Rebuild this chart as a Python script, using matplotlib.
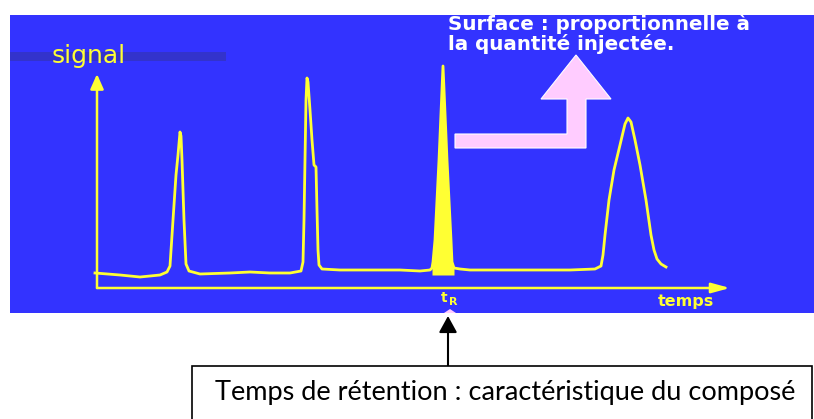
import matplotlib
matplotlib.use("Agg")
import matplotlib.pyplot as plt
from matplotlib.patches import Rectangle, Polygon, FancyArrowPatch

# ---- data: chromatogram (time, signal) in arbitrary units ----
time = [-2, 23, 43, 63, 70, 73, 76, 79, 81, 83, 84, 85, 87, 89, 92, 103, 133, 153,
        173, 193, 204, 206, 207, 208, 209, 210, 211, 213, 215, 217, 219, 220, 221,
        222, 225, 243, 273, 303, 323, 333, 335, 336, 338, 342, 346, 350, 354, 355,
        357, 363, 373, 403, 433, 473, 498, 504, 506, 508, 512, 517, 523, 528, 531,
        534, 538, 543, 549, 554, 557, 560, 564, 569]
signal = [15, 13, 11, 13, 16, 22, 68, 113, 133, 156, 152, 128, 68, 24, 17, 14, 15, 16,
          15, 15, 17, 26, 68, 128, 188, 210, 206, 178, 148, 123, 121, 78, 38,
          23, 19, 18, 18, 18, 17, 18, 20, 26, 48, 128, 222, 128, 48, 26,
          20, 19, 18, 18, 18, 18, 19, 22, 33, 53, 88, 118, 143, 164, 170,
          166, 148, 123, 88, 53, 38, 29, 24, 21]
filled_peak = (335, 357)     # time range of the shaded peak
baseline_level = 15
t_max, s_max = 633, 228
tR = 346

y_label = "signal"
x_label = "temps"
tR_label = ("t", "R")
note_area = "Surface : proportionnelle à\nla quantité injectée."
note_tr = "Temps de rétention : caractéristique du composé"

BLUE = "#3333ff"
YEL = "#ffff33"
PINK = "#ffccff"

fig = plt.figure(figsize=(8.14, 4.19), dpi=100)
ax = fig.add_axes([0, 0, 1, 1])
ax.set_xlim(0, 814)
ax.set_ylim(419, 0)
ax.axis("off")

# blue panel
ax.add_patch(Rectangle((10, 15), 804, 298, facecolor=BLUE, edgecolor="none", zorder=0))
ax.add_patch(Rectangle((10, 52), 216, 9, facecolor="#3333cc", edgecolor="none", zorder=1))
ax.text(89, 56, y_label, color=YEL, fontsize=18, family="DejaVu Sans",
        ha="center", va="center", zorder=3)

# chromatogram axes
axc = fig.add_axes([97 / 814, (419 - 288) / 419, 633 / 814, 228 / 419])
axc.set_xlim(0, t_max)
axc.set_ylim(0, s_max)
axc.axis("off")
axc.patch.set_alpha(0)

axc.add_patch(FancyArrowPatch((0, 0), (0, 214), arrowstyle="-|>,head_length=0.9,head_width=0.4",
                              mutation_scale=10, color=YEL, lw=1.8, shrinkA=0, shrinkB=0,
                              clip_on=False))
axc.add_patch(FancyArrowPatch((0, 0), (t_max, 0), arrowstyle="-|>,head_length=1.1,head_width=0.3",
                              mutation_scale=10, color=YEL, lw=1.8, shrinkA=0, shrinkB=0,
                              clip_on=False))

axc.plot(time, signal, color=YEL, lw=2.0, solid_joinstyle="round", clip_on=False)
ft = [t for t in time if filled_peak[0] <= t <= filled_peak[1]]
fs = [s for t, s in zip(time, signal) if filled_peak[0] <= t <= filled_peak[1]]
axc.fill_between(ft, fs, baseline_level - 2, color=YEL, lw=0)

# axis labels under the time axis
ax.text(444, 298, tR_label[0], color=YEL, fontsize=10, fontweight="bold",
        family="DejaVu Sans", ha="center", va="center")
ax.text(453, 302, tR_label[1], color=YEL, fontsize=8, fontweight="bold",
        family="DejaVu Sans", ha="center", va="center")
ax.text(686, 301, x_label, color=YEL, fontsize=11.5, fontweight="bold",
        family="DejaVu Sans", ha="center", va="center")

# pink L arrow
ax.add_patch(Polygon([(455, 134), (567, 134), (567, 99), (541, 99), (576, 55),
                      (611, 99), (586, 99), (586, 148), (455, 148)],
                     closed=True, facecolor=PINK, edgecolor="white", lw=0.8, zorder=2))
ax.add_patch(Polygon([(444, 313), (450, 309), (456, 313)], closed=True,
                     facecolor=PINK, edgecolor="none", zorder=2))

ax.text(448, 34, note_area, color="white", fontsize=14.3, fontweight="bold",
        family="DejaVu Sans", ha="left", va="center", linespacing=1.0)

# retention time callout
ax.add_patch(FancyArrowPatch((448, 366), (448, 316), arrowstyle="-|>,head_length=1.0,head_width=0.55",
                             mutation_scale=10, color="black", lw=1.5, shrinkA=0, shrinkB=0))
ax.add_patch(Rectangle((192, 366), 620, 60, facecolor="white", edgecolor="black", lw=1.2))
ax.text(505, 392, note_tr, color="black", fontsize=19.5, family="Lato",
        ha="center", va="center")

fig.savefig("out.png", dpi=100)
